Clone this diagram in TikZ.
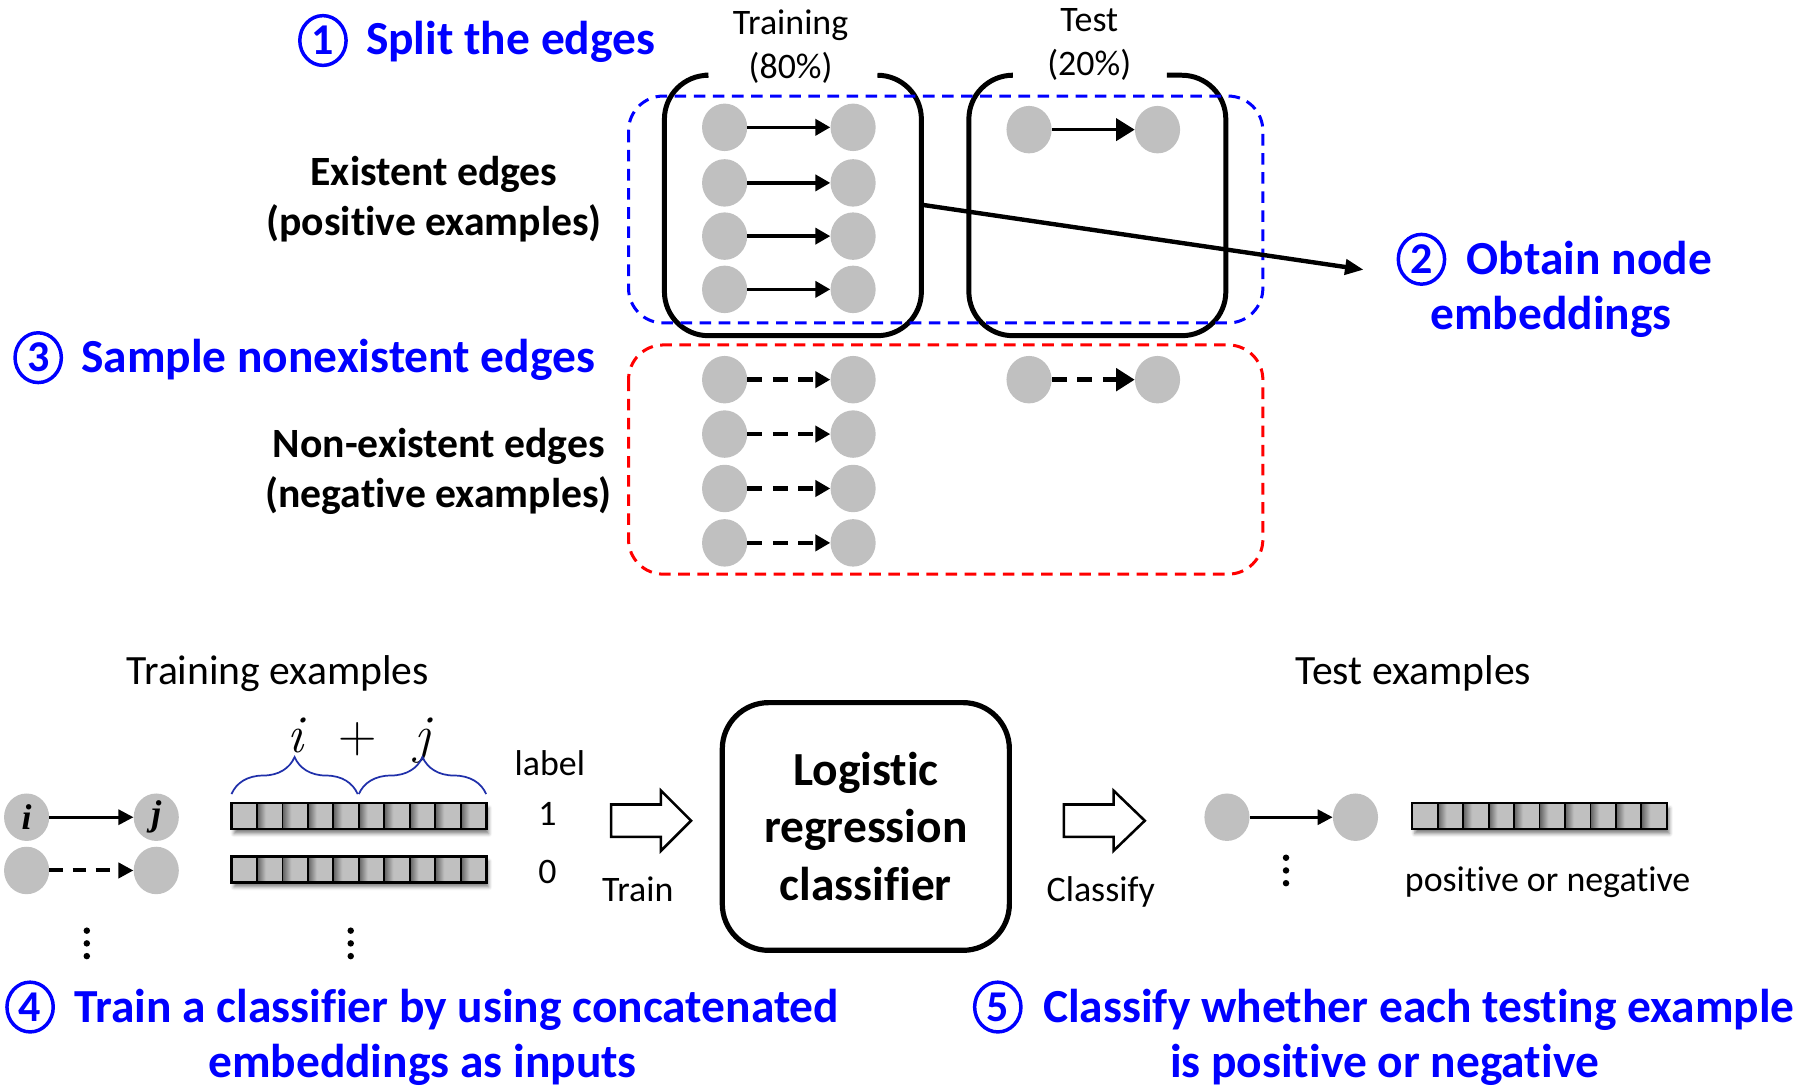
\documentclass[tikz,border=0pt]{standalone}
\usepackage{fontspec}
\setmainfont{Carlito}[Ligatures=NoCommon]
\newfontfamily\letterfont{Liberation Serif}
\newfontfamily\lmfont{Latin Modern Roman}
\usetikzlibrary{arrows.meta,shapes.geometric,decorations.pathreplacing,shadows.blur}

\definecolor{vgray}{RGB}{192,192,192}
\definecolor{bracecol}{RGB}{32,48,170}
\definecolor{stepblue}{RGB}{0,0,255}
\definecolor{negred}{RGB}{255,0,0}

% cell of an embedding vector: dark left rim fading into gray
\pgfdeclarehorizontalshading{cellshade}{100bp}{%
  color(0bp)=(black!62); color(25bp)=(black!62);
  color(42bp)=(vgray); color(100bp)=(vgray)}

% embedding vector of ten cells: name, left x, top y
\newcommand\embbar[3]{%
  \node[fill=vgray,minimum width=220pt,minimum height=22pt,anchor=north west,
        blur shadow={shadow xshift=2pt,shadow yshift=-4pt,shadow blur radius=3pt,shadow opacity=50}]
        (#1) at (#2,#3) {};
  \foreach \k in {1,...,9}{%
    \shade[shading=cellshade] ({#2+22*\k},#3) rectangle ++(22,22);}
  \draw[line width=2pt] (#1.north west) rectangle (#1.south east);
  \foreach \k in {1,...,9}{%
    \draw[line width=1.6pt] ({#2+22*\k},#3) -- ++(0,22);}
}

% vertical ellipsis made of three dots: x, top y
\newcommand\dotcol[2]{%
  \foreach \d in {0,1,2}{\fill ({#1},{#2+11*\d}) circle (2.8);}}

\begin{document}
\begin{tikzpicture}[x=1pt,y=-1pt,
  every node/.style={inner sep=0pt},
  vtx/.style={ellipse,fill=vgray,minimum width=39pt,minimum height=41pt},
  posedge/.style={line width=3pt,-{Triangle[length=13pt,width=14pt]}},
  posbig/.style={line width=3pt,-{Triangle[length=16pt,width=19pt]}},
  negedge/.style={line width=4pt,dash pattern=on 13pt off 9pt,-{Triangle[length=13pt,width=14pt]}},
  negbig/.style={line width=4pt,dash pattern=on 13pt off 9pt,-{Triangle[length=16pt,width=19pt]}},
  splitbox/.style={line width=4.3pt,rounded corners=38pt},
  groupbox/.style={line width=2.6pt,dash pattern=on 10pt off 6.5pt,rounded corners=30pt},
  cnum/.style={ellipse,draw=stepblue,line width=3pt,text=stepblue,
               minimum width=40pt,minimum height=43pt,font=\fontsize{38}{42}\selectfont\bfseries},
  headtxt/.style={text=stepblue,font=\fontsize{41}{49}\selectfont\bfseries},
  boldtxt/.style={font=\fontsize{36}{43}\selectfont\bfseries,align=center},
  bigtxt/.style={font=\fontsize{36}{43}\selectfont},
  smalltxt/.style={font=\fontsize{31}{38}\selectfont,align=center},
  blockarrow/.style={line width=2.2pt,fill=white,line join=miter},
  ijtxt/.style={font=\fontsize{31}{34}\selectfont\letterfont\bfseries\itshape},
  mathtxt/.style={font=\fontsize{46}{50}\selectfont\lmfont,anchor=base},
]
\useasboundingbox (0,0) rectangle (1568,939);

% ---------- step 1: split the edges ----------
\node[cnum] (n1) at (279,35) {1};
\node[headtxt,anchor=base west] (h1) at (316,47) {Split the edges};

\node[smalltxt] (trlab) at (683,40) {Training\\(80\%)};
\node[smalltxt] (telab) at (941,38) {Test\\(20\%)};

\draw[splitbox] (609,65) -- (574,65) -- (574,290) -- (796,290) -- (796,65) -- (758,65);
\draw[splitbox] (874,65) -- (837,65) -- (837,290) -- (1059,290) -- (1059,65) -- (1008,65);

\node[boldtxt] (poslab) at (375,172) {Existent edges\\(positive examples)};
\node[boldtxt] (neglab) at (379,407) {Non-existent edges\\(negative examples)};

% positive edges
\foreach \r/\yy in {1/110,2/158,3/204,4/250}{
  \node[vtx] (pa\r) at (626,\yy) {};
  \node[vtx] (pb\r) at (737,\yy) {};
  \draw[posedge] (pa\r) -- (pb\r);
}
\node[vtx] (qa) at (889,112) {};
\node[vtx] (qb) at (1000,112) {};
\draw[posbig] (qa) -- (qb);

% negative edges
\foreach \r/\yy in {1/328,2/375,3/422,4/469}{
  \node[vtx] (na\r) at (626,\yy) {};
  \node[vtx] (nb\r) at (737,\yy) {};
  \draw[negedge] (na\r) -- (nb\r);
}
\node[vtx] (ma) at (889,328) {};
\node[vtx] (mb) at (1000,328) {};
\draw[negbig] (ma) -- (mb);

\draw[groupbox,draw=stepblue] (543,83) rectangle (1091,279);
\draw[groupbox,draw=negred] (543,298) rectangle (1091,496);

% ---------- step 2: node embeddings ----------
\node[cnum] (n2) at (1228,224) {2};
\node[headtxt,anchor=base west] (h2a) at (1267,237) {Obtain node};
\node[headtxt,anchor=base] (h2b) at (1340,285) {embeddings};
\coordinate (trE) at (797,177);
\coordinate (embtip) at (1178,233);
\draw[line width=3.8pt,-{Triangle[length=16pt,width=13pt]}] (trE) -- (embtip);

% ---------- step 3: sampling ----------
\node[cnum] (n3) at (33,309) {3};
\node[headtxt,anchor=base west] (h3) at (70,322) {Sample nonexistent edges};

% ---------- step 4: training ----------
\node[bigtxt,anchor=base] (trex) at (240,591) {Training examples};

\node[vtx,ijtxt] (vi) at (23,706) {i};
\node[vtx,ijtxt] (vj) at (135,706) {j};
\draw[line width=2.6pt,-{Triangle[length=13pt,width=13pt]}] (vi) -- (vj);
\node[vtx] (wi) at (23,752) {};
\node[vtx] (wj) at (135,752) {};
\draw[line width=3.5pt,dash pattern=on 12pt off 8pt,-{Triangle[length=13pt,width=13pt]}] (wi) -- (wj);
\dotcol{75}{804}

\node[mathtxt] (ci) at (255,650) {\itshape i};
\node[mathtxt] (cplus) at (309,650) {+};
\node[mathtxt] (cj) at (365,650) {\itshape j};
\draw[bracecol,line width=1.5pt,decorate,decoration={brace,amplitude=32pt}] (200,686) -- (309,686);
\draw[bracecol,line width=1.5pt,decorate,decoration={brace,amplitude=32pt}] (310,686) -- (420,686);

\embbar{vec1}{200}{694}
\embbar{vec2}{200}{740}
\dotcol{303}{804}

\node[smalltxt,anchor=base] (lab) at (475,670) {label};
\node[smalltxt,anchor=base] (lab1) at (473,713) {1};
\node[smalltxt,anchor=base] (lab0) at (473,763) {0};

\draw[blockarrow] (528,695) -- (571,695) -- (571,683) -- (597,709) -- (571,735) -- (571,723) -- (528,723) -- cycle;
\node[smalltxt,anchor=base] (trainlab) at (551,779) {Train};

\node[draw,line width=4.5pt,rounded corners=40pt,minimum width=248pt,minimum height=214pt,
      align=center,font=\fontsize{41}{50}\selectfont\bfseries] (lr) at (748,714)
      {Logistic\\regression\\classifier};

\draw[blockarrow] (919,695) -- (962,695) -- (962,683) -- (989,709) -- (962,735) -- (962,723) -- (919,723) -- cycle;
\node[smalltxt,anchor=base] (classlab) at (951,779) {Classify};

\node[cnum] (n4) at (26,870) {4};
\node[headtxt,anchor=base west] (h4a) at (64,883) {Train a classifier by using concatenated};
\node[headtxt,anchor=base] (h4b) at (365,931) {embeddings as inputs};

% ---------- step 5: classification ----------
\node[bigtxt,anchor=base] (teex) at (1221,591) {Test examples};
\node[vtx] (ui) at (1060,706) {};
\node[vtx] (uj) at (1171,706) {};
\draw[line width=2.6pt,-{Triangle[length=13pt,width=13pt]}] (ui) -- (uj);
\dotcol{1111}{741}
\embbar{vec3}{1220}{694}
\node[smalltxt,anchor=base] (pn) at (1337,770) {positive or negative};

\node[cnum] (n5) at (862,870) {5};
\node[headtxt,anchor=base west] (h5a) at (901,883) {Classify whether each testing example};
\node[headtxt,anchor=base] (h5b) at (1196,931) {is positive or negative};
\end{tikzpicture}
\end{document}
